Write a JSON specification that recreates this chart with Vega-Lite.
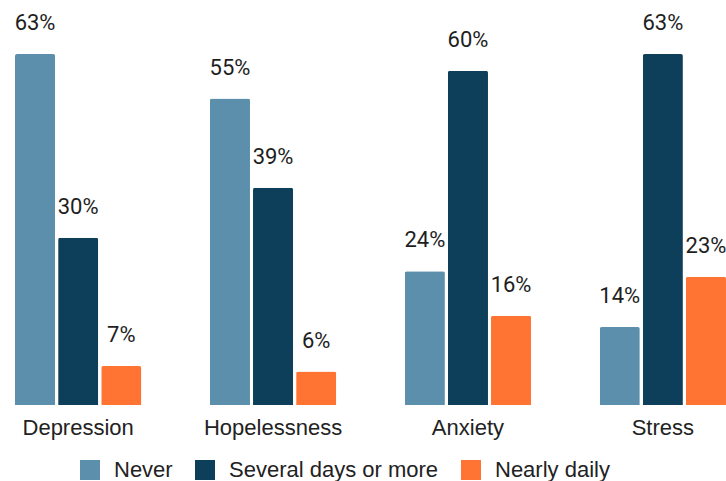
{
  "$schema": "https://vega.github.io/schema/vega-lite/v6.json",
  "width": 726,
  "height": 405,
  "autosize": {"type": "none"},
  "padding": {"left": 0, "top": 0, "right": 0, "bottom": 76},
  "background": "white",
  "config": {"view": {"stroke": null}},
  "data": {
    "values": [
      {"category": "Depression", "series": "Never", "value": 0.63},
      {"category": "Depression", "series": "Several days or more", "value": 0.30},
      {"category": "Depression", "series": "Nearly daily", "value": 0.07},
      {"category": "Hopelessness", "series": "Never", "value": 0.55},
      {"category": "Hopelessness", "series": "Several days or more", "value": 0.39},
      {"category": "Hopelessness", "series": "Nearly daily", "value": 0.06},
      {"category": "Anxiety", "series": "Never", "value": 0.24},
      {"category": "Anxiety", "series": "Several days or more", "value": 0.60},
      {"category": "Anxiety", "series": "Nearly daily", "value": 0.16},
      {"category": "Stress", "series": "Never", "value": 0.14},
      {"category": "Stress", "series": "Several days or more", "value": 0.63},
      {"category": "Stress", "series": "Nearly daily", "value": 0.23}
    ]
  },
  "encoding": {
    "x": {
      "field": "category",
      "type": "nominal",
      "sort": ["Depression", "Hopelessness", "Anxiety", "Stress"],
      "scale": {"range": [0, 741], "paddingInner": 0.352, "paddingOuter": 0.077},
      "axis": {
        "title": null,
        "labelAngle": 0,
        "ticks": false,
        "domain": false,
        "labelFont": "Liberation Sans",
        "labelFontSize": 22,
        "labelColor": "#222222",
        "labelPadding": 12
      }
    },
    "xOffset": {
      "field": "series",
      "type": "nominal",
      "sort": ["Never", "Several days or more", "Nearly daily"],
      "scale": {"paddingInner": 0.07, "paddingOuter": 0}
    },
    "y": {
      "field": "value",
      "type": "quantitative",
      "scale": {"domain": [0, 0.727], "nice": false, "zero": true},
      "axis": null
    }
  },
  "layer": [
    {
      "mark": {"type": "bar", "cornerRadiusTopLeft": 2, "cornerRadiusTopRight": 2},
      "encoding": {
        "color": {
          "field": "series",
          "type": "nominal",
          "sort": ["Never", "Several days or more", "Nearly daily"],
          "scale": {
            "domain": ["Never", "Several days or more", "Nearly daily"],
            "range": ["#5b8fab", "#0e3f5a", "#ff7433"]
          },
          "legend": {
            "title": null,
            "orient": "none",
            "direction": "horizontal",
            "legendX": 79,
            "legendY": 459,
            "padding": 0,
            "symbolType": "square",
            "symbolSize": 400,
            "symbolStrokeWidth": 0,
            "symbolOpacity": 1,
            "labelFont": "Liberation Sans",
            "labelFontSize": 22,
            "labelColor": "#222222",
            "labelOffset": 13,
            "labelLimit": 400,
            "columnPadding": 21
          }
        }
      }
    },
    {
      "mark": {
        "type": "text",
        "baseline": "alphabetic",
        "align": "center",
        "dy": -24,
        "font": "Roboto",
        "fontSize": 22,
        "color": "#1e1e1e"
      },
      "encoding": {
        "text": {"field": "value", "type": "quantitative", "format": ".0%"}
      }
    }
  ]
}
